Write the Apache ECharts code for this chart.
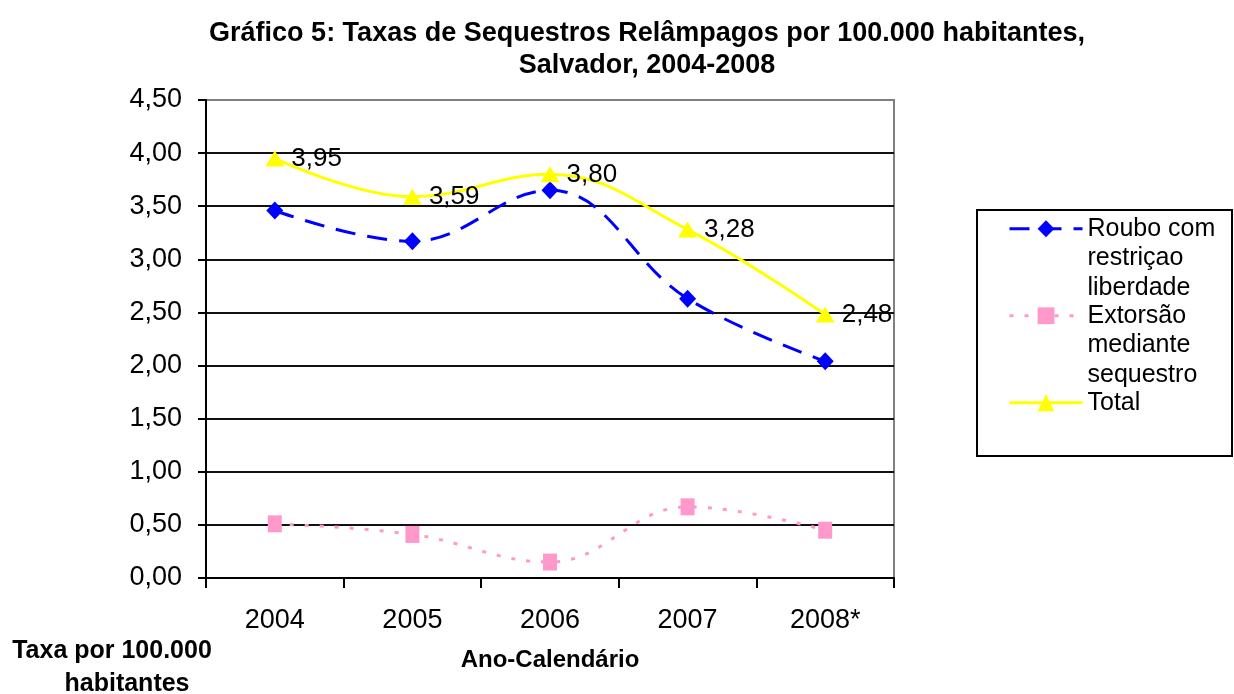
<!DOCTYPE html>
<html>
<head>
<meta charset="utf-8">
<script src="https://cdn.jsdelivr.net/npm/echarts@6/dist/echarts.min.js"></script>
<style>
  html, body { margin: 0; padding: 0; background: #fff; }
  #chart { width: 1234px; height: 694px; }
</style>
</head>
<body>
<div id="chart"></div>
<script>
// dados
var anos = ['2004', '2005', '2006', '2007', '2008*'];
var roubo = [3.46, 3.17, 3.65, 2.63, 2.04];
var extorsao = [0.51, 0.41, 0.15, 0.67, 0.45];
var total = [3.95, 3.59, 3.80, 3.28, 2.48];
var yTicks = [0, 0.5, 1, 1.5, 2, 2.5, 3, 3.5, 4, 4.5];

var fonte = 'Liberation Sans, Arial, sans-serif';
var virgula = function (v, d) { return v.toFixed(d).replace('.', ','); };

var chart = echarts.init(document.getElementById('chart'));

var option = {
  backgroundColor: '#fff',
  animation: false,
  textStyle: { fontFamily: fonte, color: '#000' },
  title: {
    text: 'Gráfico 5: Taxas de Sequestros Relâmpagos por 100.000 habitantes,\nSalvador, 2004-2008',
    left: 642,
    top: 13,
    textAlign: 'center',
    textStyle: { fontFamily: fonte, fontSize: 27, fontWeight: 'bold', lineHeight: 32, color: '#000' }
  },
  grid: {
    left: 206, right: 340, top: 100, bottom: 116,
    show: true, borderColor: '#808080', borderWidth: 2
  },
  legend: {
    orient: 'vertical',
    left: 1008,
    top: 155,
    padding: 0,
    itemGap: -60.5,
    itemWidth: 73,
    itemHeight: 21,
    selectedMode: false,
    lineStyle: { width: 3 },
    textStyle: { fontFamily: fonte, fontSize: 25, lineHeight: 29.5, color: '#000' },
    data: ['roubo', 'extorsao', 'total'],
    formatter: function (n) {
      if (n === 'roubo') return '\n\nRoubo com\nrestriçao\nliberdade';
      if (n === 'extorsao') return '\n\nExtorsão\nmediante\nsequestro';
      return '\n\nTotal\n\n';
    }
  },
  graphic: [
    {
      type: 'rect',
      shape: { x: 977, y: 210, width: 255, height: 246 },
      style: { fill: 'none', stroke: '#000', lineWidth: 2 },
      silent: true
    },
    {
      type: 'text',
      x: 112, y: 639,
      style: { text: 'Taxa por 100.000', font: 'bold 25px ' + fonte, textAlign: 'center', fill: '#000' }
    },
    {
      type: 'text',
      x: 127, y: 672,
      style: { text: 'habitantes', font: 'bold 25px ' + fonte, textAlign: 'center', fill: '#000' }
    }
  ],
  xAxis: {
    type: 'category',
    data: anos,
    boundaryGap: true,
    name: 'Ano-Calendário',
    nameLocation: 'middle',
    nameGap: 70,
    nameTextStyle: { fontFamily: fonte, fontSize: 24, fontWeight: 'bold', color: '#000' },
    axisLine: { lineStyle: { color: '#000', width: 2 } },
    axisTick: { show: true, length: 10, alignWithLabel: false, lineStyle: { color: '#000', width: 2 } },
    axisLabel: { fontFamily: fonte, fontSize: 27, color: '#000', margin: 29 }
  },
  yAxis: {
    type: 'value',
    min: yTicks[0],
    max: yTicks[yTicks.length - 1],
    interval: 0.5,
    axisLine: { show: true, lineStyle: { color: '#000', width: 2 } },
    axisTick: { show: true, length: 8, lineStyle: { color: '#000', width: 2 } },
    axisLabel: {
      fontFamily: fonte, fontSize: 27, color: '#000', margin: 24,
      formatter: function (v) { return virgula(v, 2); }
    },
    splitLine: { show: true, showMaxLine: false, lineStyle: { color: '#111', width: 2 } }
  },
  series: [
    {
      name: 'roubo',
      type: 'line',
      data: roubo,
      smooth: 0.4,
      symbol: 'diamond',
      symbolSize: [17, 18],
      itemStyle: { color: '#0000ff' },
      lineStyle: { color: '#0000ff', width: 3, type: [20, 12] },
      z: 3
    },
    {
      name: 'extorsao',
      type: 'line',
      data: extorsao,
      smooth: 0.4,
      symbol: 'rect',
      symbolSize: [14, 17],
      itemStyle: { color: '#ff99cc' },
      lineStyle: { color: '#ff99cc', width: 3, type: [4, 11] },
      z: 3
    },
    {
      name: 'total',
      type: 'line',
      data: total,
      smooth: 0.4,
      symbol: 'triangle',
      symbolSize: [19, 16],
      itemStyle: { color: '#ffff00' },
      lineStyle: { color: '#ffff00', width: 3 },
      label: {
        show: true,
        position: 'right',
        distance: 7,
        fontFamily: fonte,
        fontSize: 26,
        color: '#000',
        formatter: function (p) { return virgula(p.value, 2); }
      },
      z: 4
    }
  ]
};

chart.setOption(option);
</script>
</body>
</html>
